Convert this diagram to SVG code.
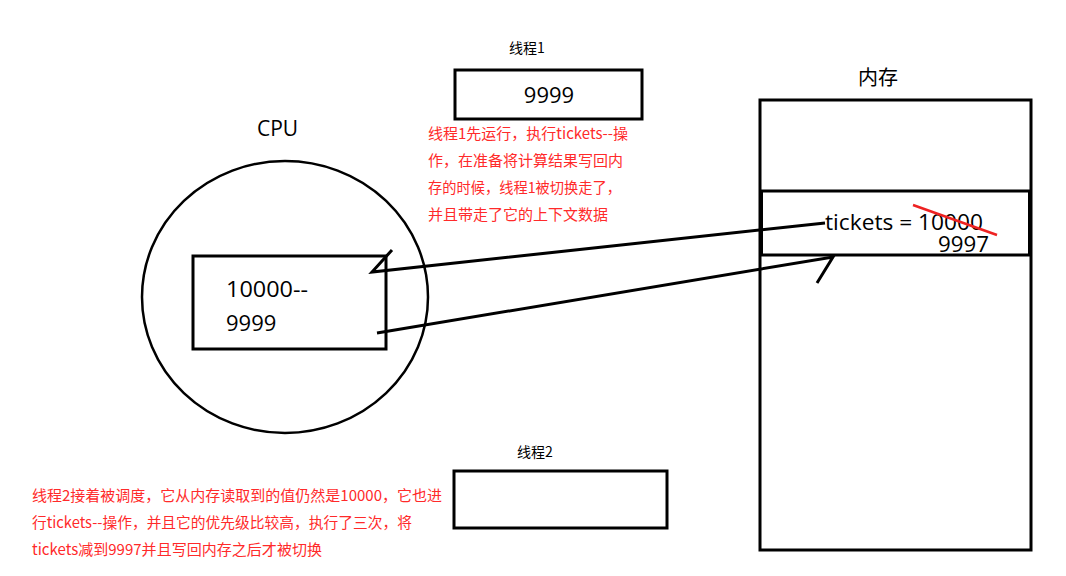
<svg xmlns="http://www.w3.org/2000/svg" width="1066" height="576" viewBox="0 0 1066 576">
<style>
.box{fill:none;stroke:#000;stroke-width:3}
.lbl{font-family:"Open Sans","Noto Sans CJK SC",sans-serif;fill:#000}
.cjk{font-family:"Noto Sans CJK SC",sans-serif;fill:#000}
.note{font-family:"Noto Sans CJK SC",sans-serif;fill:#ff2a2a;font-size:15px}
.conn{fill:none;stroke:#000;stroke-width:3;stroke-linejoin:miter}
</style>
<rect width="1066" height="576" fill="#fff"/>
<g id="cpu">
<ellipse cx="285" cy="297" rx="143" ry="136" fill="none" stroke="#000" stroke-width="2.5"/>
<text class="lbl" x="257" y="136" font-size="21">CPU</text>
<rect class="box" x="193" y="256" width="193" height="93"/>
<text class="lbl" x="226" y="297" font-size="22" textLength="82" lengthAdjust="spacingAndGlyphs">10000--</text>
<text class="lbl" x="226" y="331" font-size="22">9999</text>
</g>
<g id="thread1">
<text class="cjk" x="509" y="53" font-size="14">线程1</text>
<rect class="box" x="455" y="70" width="187" height="49"/>
<text class="lbl" x="549" y="103" font-size="22" text-anchor="middle">9999</text>
<text class="note" x="428" y="139" textLength="200" lengthAdjust="spacingAndGlyphs">线程1先运行，执行tickets--操</text>
<text class="note" x="428" y="166">作，在准备将计算结果写回内</text>
<text class="note" x="428" y="193" textLength="193" lengthAdjust="spacingAndGlyphs">存的时候，线程1被切换走了，</text>
<text class="note" x="428" y="220">并且带走了它的上下文数据</text>
</g>
<g id="memory">
<text class="cjk" x="858" y="85" font-size="20">内存</text>
<rect class="box" x="760" y="100" width="271" height="450"/>
<rect class="box" x="761.5" y="191" width="268" height="64" stroke-width="4"/>
<text class="lbl" x="825" y="230" font-size="22" textLength="158" lengthAdjust="spacingAndGlyphs">tickets = 10000</text>
<text class="lbl" x="938" y="252" font-size="22" textLength="51" lengthAdjust="spacingAndGlyphs">9997</text>
<line x1="913" y1="205" x2="997" y2="235" stroke="#ee2222" stroke-width="2.5"/>
</g>
<g id="thread2">
<text class="cjk" x="517" y="457" font-size="14">线程2</text>
<rect class="box" x="454" y="471" width="213" height="57"/>
<text class="note" x="32" y="501" textLength="410" lengthAdjust="spacingAndGlyphs">线程2接着被调度，它从内存读取到的值仍然是10000，它也进</text>
<text class="note" x="32" y="528" textLength="380" lengthAdjust="spacingAndGlyphs">行tickets--操作，并且它的优先级比较高，执行了三次，将</text>
<text class="note" x="32" y="555" textLength="290" lengthAdjust="spacingAndGlyphs">tickets减到9997并且写回内存之后才被切换</text>
</g>
<g id="connectors">
<polyline class="conn" points="825,223 372,272 392,250"/>
<polyline class="conn" points="377,333 833,257 817,283"/>
</g>
</svg>
